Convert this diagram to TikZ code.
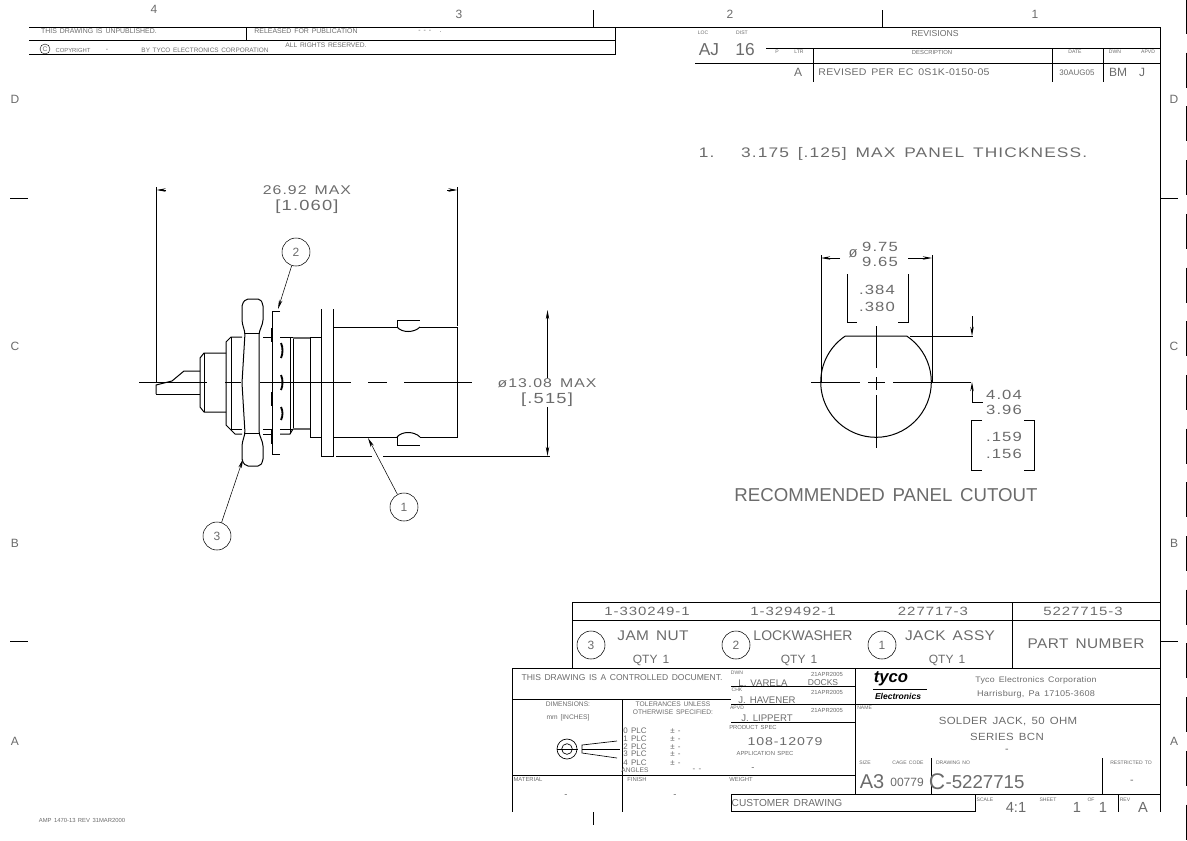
\documentclass[tikz,border=0pt]{standalone}
\usepackage{fontspec}
\setmainfont[WordSpace=1.5]{Liberation Sans}
\newfontfamily\midfont[FakeStretch=1.1,LetterSpace=3,WordSpace=1.5]{Liberation Sans}
\newfontfamily\widefont[FakeStretch=1.25,LetterSpace=8,WordSpace=1.5]{Liberation Sans}
\usepackage{xcolor}
\usetikzlibrary{arrows.meta}
\definecolor{printgray}{gray}{0.42}
\tikzset{
  part/.style={line width=0.75pt},
  leader/.style={line width=0.4pt,-{Stealth[length=7pt,width=2.6pt]}},
  dimen/.style={line width=0.6pt,-{Stealth[length=7pt,width=2.6pt]}},
  txt/.style={inner sep=0pt,text=printgray,font=\fontsize{#1}{#1}\selectfont},
  mtxt/.style={inner sep=0pt,text=printgray,font=\fontsize{#1}{#1}\midfont},
  wtxt/.style={inner sep=0pt,text=printgray,font=\fontsize{#1}{#1}\widefont},
  bubble/.style={draw,circle,line width=0.4pt,minimum size=21pt,inner sep=0pt,text=printgray,font=\fontsize{9}{9}\selectfont},
}
\begin{document}
\begin{tikzpicture}[x=0.75pt,y=0.75pt,yscale=-1,xscale=1]
        \path [use as bounding box] (0,0) rectangle (1187,840);
        % sheet frame and zone marks
        \draw [part] (29,54) -- (615,54) -- (615,27) ;
        \draw [part] (29,27) -- (1160,27) -- (1160,812) ;
        \draw [part] (29,40) -- (615,40) ;
        \draw [part] (246,27) -- (246,40) ;
        \draw [part] (593,10) -- (593,27) ;
        \draw [part] (882,10) -- (882,27) ;
        \draw [part] (593,812) -- (593,825) ;
        \draw [part] (10,198) -- (28,198) ;
        \draw [part] (10,641) -- (28,641) ;
        \draw [part] (1160,198) -- (1178,198) ;
        \draw [part] (1160,641) -- (1178,641) ;
        \foreach \y in {-1,52.7,...,830} \draw [part] (1186,\y) -- (1186,\y+35) ;
        \foreach \n/\x/\y in {4/154/9,3/459/14,2/730/14,1/1035/14}
          \node (col\n) [txt=9] at (\x,\y) {\n};
        \foreach \n/\y in {D/99,C/346,B/543,A/741} {
          \node (left\n) [txt=9] at (15,\y) {\n};
          \node (right\n) [txt=9] at (1174,\y) {\n};
        }
        % top notice
        \node (unpub) [txt=5.2] at (99,31) {THIS DRAWING IS UNPUBLISHED.};
        \node (relsd) [txt=5.2] at (306,31) {RELEASED FOR PUBLICATION};
        \node (reldash) [txt=5.2] at (430,31) {- - -\ \ \ .};
        \node (copysym) [draw,circle,minimum size=7.5pt,inner sep=0pt,line width=0.3pt,txt=5] at (45,49) {C};
        \node (copytxt) [txt=4.4] at (73,50) {COPYRIGHT};
        \node (copydash) [txt=5.2] at (107,50) {-};
        \node (copyby) [txt=4.8] at (205,50) {BY TYCO ELECTRONICS CORPORATION};
        \node (rights) [txt=5] at (326,45) {ALL RIGHTS RESERVED.};
        % revisions
        \draw [part] (766,48) -- (1160,48) ;
        \draw [part] (695,63.5) -- (1160,63.5) ;
        \draw [part] (813,48) -- (813,82) ;
        \draw [part] (1052,48) -- (1052,82) ;
        \draw [part] (1103,48) -- (1103,82) ;
        \node (revloc) [txt=3.8] at (703,33) {LOC};
        \node (revdist) [txt=3.8] at (742,33) {DIST};
        \node (revaj) [txt=13] at (709,50) {AJ};
        \node (rev16) [txt=13] at (745,50) {16};
        \node (revp) [txt=3.8] at (777,52) {P};
        \node (revltr) [txt=3.8] at (799,52) {LTR};
        \node (revtitle) [txt=6.5] at (935,34) {REVISIONS};
        \node (revdesc) [txt=4.4] at (932,52) {DESCRIPTION};
        \node (revdate) [txt=3.8] at (1075,52) {DATE};
        \node (revdwn) [txt=3.8] at (1115,52) {DWN};
        \node (revapvd) [txt=3.8] at (1148,52) {APVD};
        \node (revltra) [txt=9] at (798,72) {A};
        \node (revtext) [mtxt=7.2] at (904,72) {REVISED PER EC 0S1K-0150-05};
        \node (revwhen) [txt=6] at (1077,73) {30AUG05};
        \node (revbm) [txt=9] at (1118,72) {BM};
        \node (revj) [txt=9] at (1142,72) {J};
        % note
        \node (note) [wtxt=10.4] at (893,154) {1.\ \ \ 3.175 [.125] MAX PANEL THICKNESS.};
        % jack, left to right
        \foreach \a/\b in {139/207,225/241,260/351,368/387,404/472} \draw [part] (\a,382) -- (\b,382) ;
        \draw [part] (156,394) -- (156,385) -- (172,381) -- (184,371) -- (200,371) ;
        \draw [part] (156,394) -- (200,394) ;
        \draw [part] (226,353) -- (204,353) -- (200,358) -- (200,407) -- (204,412) -- (226,412) ;
        \draw [part] (204,353) -- (204,412) ;
        \draw [part] (242,337) -- (231,337) -- (226,342) -- (226,425) -- (235,434) -- (242,434) ;
        \draw [part] (231,337) -- (231,429) -- (242,429) ;
        \draw [part,rounded corners=1.5pt] (246,299) -- (260,299) -- (263,304) -- (263,322) -- (259,333) -- (259,433) -- (263,444) -- (263,461) -- (260,466) -- (246,466) -- (242,461) -- (242,444) -- (245,433) -- (242,383) -- (245,333) -- (242,322) -- (242,304) -- cycle ;
        \draw [part] (245,333) -- (259,333) ;
        \draw [part] (245,433) -- (259,433) ;
        \draw [part] (263,337) -- (272,337) ;
        \draw [part] (263,429) -- (272,429) ;
        \draw [part] (263,434) -- (272,434) ;
        \draw [part] (280,311) -- (272,311) -- (272,454) -- (280,454) ;
        \foreach \a/\b in {328/342,392/406,430/444} \draw [line width=1.4pt] (272,\a) -- (272,\b) ;
        \foreach \a/\b in {343/358,375/390,407/420} \draw [line width=1.4pt] (281,\a) .. controls (283,\a+4) and (283,\b-4) .. (281,\b) ;
        \draw [part] (280,337) -- (310,337) ;
        \draw [part] (280,429) -- (293,429) ;
        \draw [part] (280,434) -- (290,434) -- (293,429) ;
        \draw [part] (290,337) -- (290,434) ;
        \draw [part] (293,337) -- (293,429) ;
        \draw [line width=1pt,black!60] (293,338) -- (310,338) ;
        \draw [line width=1pt,black!60] (293,429) -- (310,429) ;
        \draw [part] (321,337) -- (310,337) -- (310,437) -- (321,437) ;
        \draw [part] (321,309) -- (321,456) -- (333,456) -- (333,309) ;
        \draw [part] (333,327) -- (397,327) ;
        \draw [part] (420,327) -- (457,327) -- (457,437) -- (420,437) ;
        \draw [part] (333,437) -- (397,437) ;
        \draw [part] (397,327) -- (397,320) -- (420,320) ;
        \draw [part] (397,327) .. controls (402,333) and (414,333) .. (420,327) ;
        \draw [part] (397,437) -- (397,445.5) -- (420,445.5) ;
        \draw [part] (397,437) .. controls (402,431) and (414,431) .. (420,437) ;
        % jack dimensions
        \draw [part] (156.5,187) -- (156.5,383) ;
        \draw [part] (457.5,187) -- (457.5,326) ;
        \coordinate (lenleft) at (156.5,190) ;
        \coordinate (lenleftend) at (166,190) ;
        \coordinate (lenright) at (457.5,190) ;
        \coordinate (lenrightend) at (447,190) ;
        \draw [dimen] (lenleftend) -- (lenleft) ;
        \draw [dimen] (lenrightend) -- (lenright) ;
        \node (lenmm) [wtxt=9.5] at (307,190.5) {26.92 MAX};
        \node (lenin) [wtxt=11] at (307,207) {[1.060]};
        \draw [part] (336,456) -- (372,456) ;
        \draw [part] (383,456) -- (550,456) ;
        \node (diamm) [wtxt=9.5] at (547,383) {ø13.08 MAX};
        \node (diain) [wtxt=11] at (547,400) {[.515]};
        \coordinate (diatop) at (547.5,310) ;
        \coordinate (diabot) at (547.5,456) ;
        \draw [dimen] (diamm.north -| diatop) -- (diatop) ;
        \draw [dimen] (diain.south -| diabot) -- (diabot) ;
        % balloons on the jack
        \node (ball2) [bubble] at (296,252) {2};
        \node (ball3) [bubble] at (217,536) {3};
        \node (ball1) [bubble] at (404,507) {1};
        \coordinate (tip2) at (278,309) ;
        \coordinate (tip3) at (243,459) ;
        \coordinate (tip1) at (368,438) ;
        \draw [leader] (ball2) -- (tip2) ;
        \draw [leader] (ball3) -- (tip3) ;
        \draw [leader] (ball1) -- (tip1) ;
        % panel cutout
        \draw [part] (845.3,336) -- (906.7,336) arc [start angle=-56.3,end angle=236.3,radius=55.3] ;
        \foreach \a/\b in {811/860,868/885,893/971} \draw [part] (\a,382) -- (\b,382) ;
        \foreach \a/\b in {326/368,377/390,395/448} \draw [part] (876,\a) -- (876,\b) ;
        \draw [part] (821,255) -- (821,382) ;
        \draw [part] (932,255) -- (932,382) ;
        \coordinate (holeleft) at (821,258) ;
        \coordinate (holeleftend) at (840,258) ;
        \coordinate (holeright) at (932,258) ;
        \coordinate (holerightend) at (908,258) ;
        \draw [dimen] (holeleftend) -- (holeleft) ;
        \draw [dimen] (holerightend) -- (holeright) ;
        \node (holesym) [txt=11] at (853,254) {ø};
        \node (holemax) [wtxt=10] at (880,247) {9.75};
        \node (holemin) [wtxt=10] at (880,262) {9.65};
        \draw [part] (847,274) -- (847,322) -- (857,322) ;
        \draw [part] (908,274) -- (908,322) -- (898,322) ;
        \node (holemaxin) [wtxt=10] at (877,290) {.384};
        \node (holeminin) [wtxt=10] at (877,307) {.380};
        \draw [part] (910,336) -- (973,336) ;
        \coordinate (flattop) at (972,336) ;
        \coordinate (flattopend) at (972,316) ;
        \coordinate (flatbot) at (972,382) ;
        \coordinate (flatbotend) at (972,402) ;
        \draw [dimen] (flattopend) -- (flattop) ;
        \draw [dimen] (flatbotend) -- (flatbot) ;
        \draw [part] (flatbotend) -- (983,402) ;
        \node (flatmax) [wtxt=10] at (1004,395) {4.04};
        \node (flatmin) [wtxt=10] at (1004,410) {3.96};
        \draw [part] (982,420) -- (971,420) -- (971,470) -- (982,470) ;
        \draw [part] (1024,420) -- (1034,420) -- (1034,470) -- (1024,470) ;
        \node (flatmaxin) [wtxt=10] at (1004,437) {.159};
        \node (flatminin) [wtxt=10] at (1004,454) {.156};
        \node (cutout) [txt=14] at (886,495) {RECOMMENDED PANEL CUTOUT};
        % parts list
        \draw [part] (572,668) -- (572,602) -- (1160,602) ;
        \draw [part] (572,620) -- (1160,620) ;
        \draw [part] (512,668) -- (1160,668) ;
        \draw [part] (1012,602) -- (1012,668) ;
        \node (pn3) [wtxt=9] at (647,611) {1-330249-1};
        \node (pn2) [wtxt=9] at (793,611) {1-329492-1};
        \node (pn1) [wtxt=9] at (933,611) {227717-3};
        \node (pn0) [wtxt=9] at (1083,611) {5227715-3};
        \node (item3) [bubble] at (591,645) {3};
        \node (item2) [bubble] at (736,645) {2};
        \node (item1) [bubble] at (882,645) {1};
        \node (name3) [mtxt=10.5] at (653,636) {JAM NUT};
        \node (name2) [txt=10.5] at (803,636) {LOCKWASHER};
        \node (name1) [mtxt=10.5] at (950,636) {JACK ASSY};
        \node (qty3) [txt=9] at (651,660) {QTY 1};
        \node (qty2) [txt=9] at (799,660) {QTY 1};
        \node (qty1) [txt=9] at (947,660) {QTY 1};
        \node (partno) [mtxt=10.5] at (1086,644) {PART NUMBER};
        % title block
        \draw [part] (512,668) -- (512,812) ;
        \draw [part] (622,699) -- (622,812) ;
        \draw [part] (512,699) -- (731,699) ;
        \draw [part] (512,775) -- (855,775) ;
        \draw [part] (855,668) -- (855,794) ;
        \draw [part] (731,686) -- (855,686) ;
        \draw [part] (731,704) -- (1160,704) ;
        \draw [part] (731,722) -- (855,722) ;
        \draw [part] (731,794) -- (1160,794) ;
        \draw [part] (731,794) -- (731,811) -- (975,811) -- (975,794) ;
        \draw [part] (931,758) -- (931,794) ;
        \draw [part] (1102,758) -- (1102,794) ;
        \draw [part] (1118,794) -- (1118,812) ;
        \draw [part] (873,689) -- (927,689) ;
        \node (control) [txt=6.4] at (622,678) {THIS DRAWING IS A CONTROLLED DOCUMENT.};
        \node (dimhead) [txt=5] at (568,704) {DIMENSIONS:};
        \node (dimunit) [txt=5] at (568,718) {mm [INCHES]};
        \node (tolhead) [txt=5] at (673,704) {TOLERANCES UNLESS};
        \node (tolhead2) [txt=5] at (673,712) {OTHERWISE SPECIFIED:};
        \foreach \n/\y in {0/731,1/739,2/747,3/754,4/763} {
          \node (plc\n) [txt=6,anchor=west] at (623,\y) {\n\ PLC};
          \node (tol\n) [txt=6,anchor=west] at (670,\y) {± -};
        }
        \node (angles) [txt=5] at (635,770) {ANGLES};
        \node (angval) [txt=6] at (697,770) {- -};
        \draw [part,line width=0.5pt] (557,749) -- (578,749) ;
        \node (proj1) [draw,circle,minimum size=15pt,inner sep=0pt,line width=0.5pt] at (567,749) {};
        \node (proj2) [draw,circle,minimum size=8pt,inner sep=0pt,line width=0.5pt] at (567,749) {};
        \draw [part,line width=0.5pt] (617,741) -- (582,745) -- (582,753) -- (617,758) ;
        \draw [part,line width=0.5pt] (582,749) -- (620,749) ;
        \node (matlab) [txt=4.4] at (528,779) {MATERIAL};
        \node (matval) [txt=7] at (566,796) {-};
        \node (finlab) [txt=4.4] at (637,779) {FINISH};
        \node (finval) [txt=7] at (675,796) {-};
        \node (dwnlab) [txt=3.8] at (737,673) {DWN};
        \node (dwndate) [txt=4.4] at (827,674) {21APR2005};
        \node (dwnname) [txt=7.2] at (763,683) {L. VARELA};
        \node (dwnname2) [txt=6.4] at (823,683) {DOCKS};
        \node (chklab) [txt=3.8] at (737,690) {CHK};
        \node (chkdate) [txt=4.4] at (827,692) {21APR2005};
        \node (chkname) [txt=7.2] at (767,700) {J. HAVENER};
        \node (apvlab) [txt=3.8] at (737,708) {APVD};
        \node (apvdate) [txt=4.4] at (827,710) {21APR2005};
        \node (apvname) [txt=7.2] at (767,718) {J. LIPPERT};
        \node (speclab) [txt=4.4] at (753,727) {PRODUCT SPEC};
        \node (specval) [wtxt=8.5] at (785,742) {108-12079};
        \node (applab) [txt=4.4] at (765,753) {APPLICATION SPEC};
        \node (appval) [txt=7] at (753,769) {-};
        \node (weightlab) [txt=4.4] at (741,779) {WEIGHT};
        \node (customer) [txt=7.6] at (787,803) {CUSTOMER DRAWING};
        \node (tycologo) [font=\fontsize{12.5}{12.5}\selectfont\bfseries\itshape,inner sep=0pt] at (891,679) {tyco};
        \node (electro) [font=\fontsize{6.4}{6.4}\selectfont\bfseries\itshape,inner sep=0pt] at (898,696) {Electronics};
        \node (corp) [mtxt=6] at (1036,680) {Tyco Electronics Corporation};
        \node (city) [mtxt=6.2] at (1036,694) {Harrisburg, Pa 17105-3608};
        \node (namelab) [txt=3.8,anchor=west] at (857,708) {NAME};
        \node (title1) [mtxt=7.8] at (1008,722) {SOLDER JACK, 50 OHM};
        \node (title2) [mtxt=7.8] at (1007,737) {SERIES BCN};
        \node (title3) [txt=8] at (1007,751) {-};
        \node (sizelab) [txt=3.8] at (865,763) {SIZE};
        \node (cagelab) [txt=3.8] at (908,763) {CAGE CODE};
        \node (drawlab) [txt=3.8] at (953,763) {DRAWING NO};
        \node (restlab) [txt=3.8] at (1131,763) {RESTRICTED TO};
        \node (sizeval) [txt=15] at (872,782) {A3};
        \node (cageval) [txt=9] at (907,782) {00779};
        \node (cmark) [txt=17] at (937,782) {C};
        \node (drawval) [txt=14] at (985,782) {-5227715};
        \node (restval) [txt=8] at (1132,782) {-};
        \node (scalelab) [txt=3.8] at (985,800) {SCALE};
        \node (scaleval) [txt=11] at (1016,807) {4:1};
        \node (sheetlab) [txt=3.8] at (1048,800) {SHEET};
        \node (sheetval) [txt=11] at (1077,807) {1};
        \node (oflab) [txt=3.8] at (1091,800) {OF};
        \node (ofval) [txt=11] at (1103,807) {1};
        \node (revlab) [txt=3.8] at (1125,800) {REV};
        \node (revval) [txt=11] at (1143,807) {A};
        \node (formno) [txt=4.4] at (82,820) {AMP 1470-13 REV 31MAR2000};
\end{tikzpicture}
\end{document}
